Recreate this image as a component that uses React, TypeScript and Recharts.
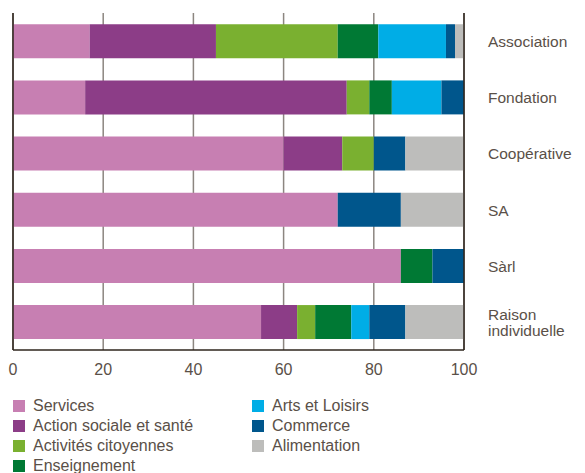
import React from 'react';
import { BarChart, Bar, XAxis, YAxis, CartesianGrid, ReferenceLine } from 'recharts';

const categories = ['Association', 'Fondation', 'Coopérative', 'SA', 'Sàrl', 'Raison individuelle'];

const seriesNames = [
  'Services',
  'Action sociale et santé',
  'Activités citoyennes',
  'Enseignement',
  'Arts et Loisirs',
  'Commerce',
  'Alimentation',
];

const services = [17, 16, 60, 72, 86, 55];
const actionSociale = [28, 58, 13, 0, 0, 8];
const activites = [27, 5, 7, 0, 0, 4];
const enseignement = [9, 5, 0, 0, 7, 8];
const artsLoisirs = [15, 11, 0, 0, 0, 4];
const commerce = [2, 5, 7, 14, 7, 8];
const alimentation = [2, 0, 13, 14, 0, 13];

const xTicks = [0, 20, 40, 60, 80, 100];

const COLORS = ['#c77fb2', '#8c3d87', '#7ab030', '#007934', '#00ade6', '#00568c', '#bdbdbb'];

const seriesValues = [services, actionSociale, activites, enseignement, artsLoisirs, commerce, alimentation];

const data = categories.map((name, i) => {
  const row: Record<string, string | number> = { name };
  seriesValues.forEach((vals, k) => {
    row[`s${k}`] = vals[i];
  });
  return row;
});

const FONT = '"Liberation Sans", Arial, sans-serif';
const TEXT = '#5a5048';
const DARK = '#2e241c';

const CategoryTick = (props: any) => {
  const { x, y, payload } = props;
  const label: string = payload.value;
  const lines = label.length > 14 ? [label.slice(0, label.indexOf(' ')), label.slice(label.indexOf(' ') + 1)] : [label];
  const lh = 16;
  const start = y - ((lines.length - 1) * lh) / 2;
  return (
    <text x={x + 16} y={start} fill={TEXT} fontSize={15.5} fontFamily={FONT} textAnchor="start" dominantBaseline="central">
      {lines.map((l, i) => (
        <tspan key={i} x={x + 16} y={start + i * lh} dominantBaseline="central">
          {l}
        </tspan>
      ))}
    </text>
  );
};

const App: React.FC = () => {
  const col1 = [0, 1, 2, 3];
  const col2 = [4, 5, 6];
  const item = (k: number) => (
    <div key={k} style={{ display: 'flex', alignItems: 'center', height: 20 }}>
      <span style={{ width: 12, height: 12, background: COLORS[k], marginRight: 8, display: 'inline-block' }} />
      <span>{seriesNames[k]}</span>
    </div>
  );
  return (
    <div style={{ position: 'absolute', left: 0, top: 0, width: 585, height: 473, background: '#fff', fontFamily: FONT, color: TEXT, fontSize: 16 }}>
      <BarChart
        width={585}
        height={380}
        data={data}
        layout="vertical"
        margin={{ top: 13, right: 0, bottom: 0, left: 13 }}
        barCategoryGap="20%"
      >
        <CartesianGrid horizontal={false} stroke="#8c8680" strokeWidth={1.5} />
        <XAxis
          type="number"
          domain={[0, 100]}
          ticks={xTicks}
          tickLine={false}
          axisLine={{ stroke: DARK, strokeWidth: 1.5 }}
          height={30}
          tick={{ fill: TEXT, fontSize: 16, fontFamily: FONT }}
          tickMargin={8}
        />
        <YAxis
          type="category"
          dataKey="name"
          orientation="right"
          width={121}
          tickLine={false}
          axisLine={{ stroke: DARK, strokeWidth: 1.5 }}
          tick={<CategoryTick />}
        />
        {seriesNames.map((n, k) => (
          <Bar key={n} dataKey={`s${k}`} name={n} stackId="a" fill={COLORS[k]} isAnimationActive={false} />
        ))}
        <ReferenceLine x={0} stroke={DARK} strokeWidth={1.5} />
      </BarChart>
      <div style={{ display: 'flex', paddingLeft: 13, paddingTop: 16 }}>
        <div style={{ width: 239 }}>{col1.map(item)}</div>
        <div>{col2.map(item)}</div>
      </div>
    </div>
  );
};

export default App;
